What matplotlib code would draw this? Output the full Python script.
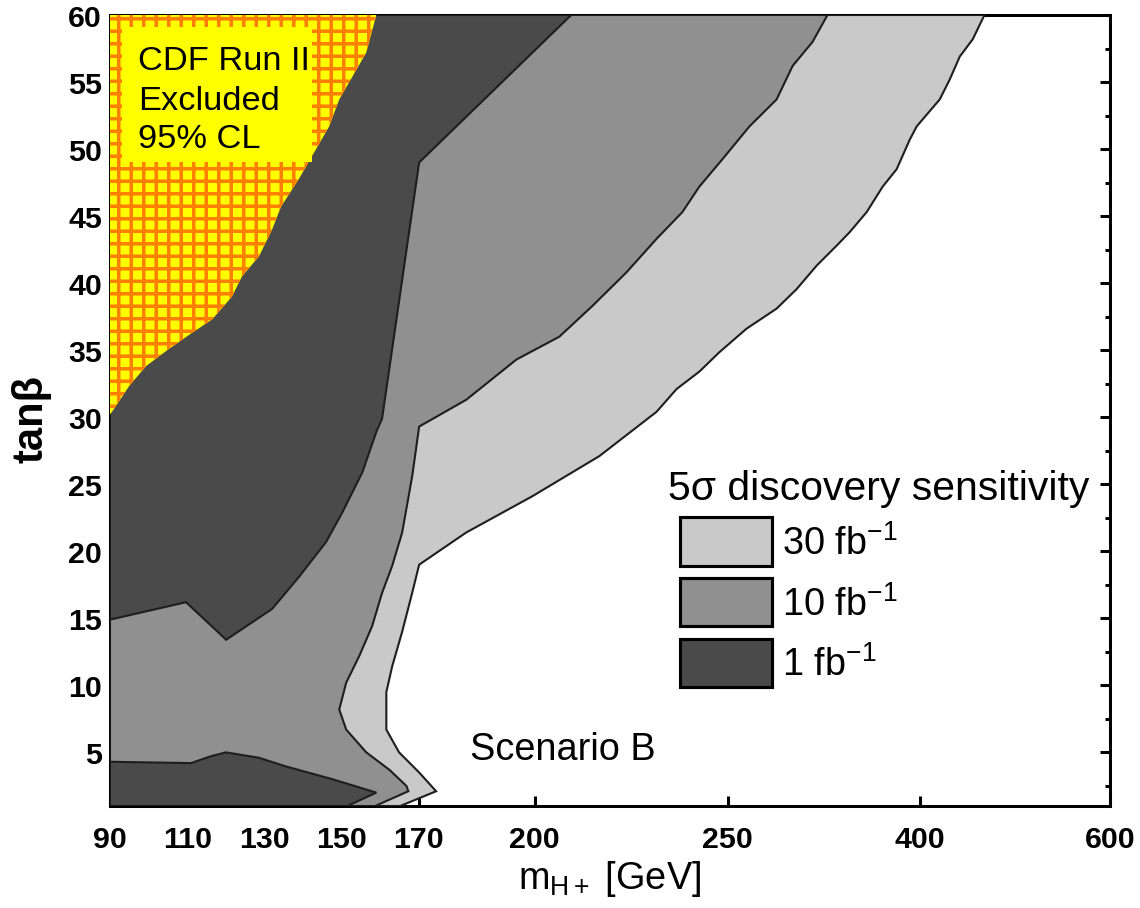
import numpy as np
import matplotlib
matplotlib.use('Agg')
import matplotlib.pyplot as plt
from matplotlib.patches import Polygon, Rectangle, Patch
from matplotlib.ticker import FixedLocator, MultipleLocator

plt.rcParams['font.family'] = ['Liberation Sans', 'DejaVu Sans']
plt.rcParams['mathtext.fontset'] = 'custom'
plt.rcParams['mathtext.rm'] = 'Liberation Sans'
plt.rcParams['mathtext.it'] = 'Liberation Sans:italic'
plt.rcParams['mathtext.bf'] = 'Liberation Sans:bold'
plt.rcParams['hatch.linewidth'] = 1.7

# ---------------- data (m_H+ [GeV], tan beta) ----------------
# CDF Run II 95% CL excluded region: boundary from left edge to top edge
cdf_m = [90, 91.0, 94.9, 99.3, 105.3, 111.3, 116.5, 121.6, 124.2, 128.6, 132.0,
         134.3, 139.0, 142.4, 146.8, 149.4, 152.8, 156.4, 159.0]
cdf_tb = [30.2, 30.6, 32.3, 33.8, 35.1, 36.3, 37.3, 39.0, 40.5, 42.0, 44.0,
          45.7, 47.8, 49.5, 51.7, 53.7, 55.4, 57.2, 60.0]

# 1 fb^-1 contour, upper region boundary (left edge -> top edge)
one_up_m = [90, 109.7, 120.1, 132.0, 139.0, 146.0, 150.2, 155.4, 159.0, 160.5, 170.1, 209.5]
one_up_tb = [14.9, 16.2, 13.4, 15.7, 18.1, 20.7, 22.9, 25.9, 28.9, 29.9, 49.0, 60.0]

# 1 fb^-1 contour, lower strip boundary (left edge -> bottom edge)
one_lo_m = [90, 111.0, 116.0, 120.0, 128.6, 135.6, 147.6, 159.0, 151.5]
one_lo_tb = [4.3, 4.2, 4.7, 5.0, 4.6, 3.95, 3.0, 2.0, 1.0]

# 10 fb^-1 contour (top edge -> bottom edge)
ten_m = [328, 316.4, 300.8, 288.3, 267.2, 248.7, 242.7, 238.3, 231.6, 223.8, 215.0,
         206.4, 195.3, 182.3, 170.1, 168.3, 165.7, 163.1, 160.5, 157.9, 154.6, 151.2,
         149.4, 151.2, 156.4, 162.4, 166.8, 167.3, 158.7]
ten_tb = [60, 58.0, 56.2, 53.7, 51.7, 49.25, 47.2, 45.3, 43.3, 40.8, 38.3,
          36.0, 34.3, 31.3, 29.3, 25.6, 21.4, 18.9, 16.9, 14.4, 12.2, 10.2,
          8.2, 6.7, 5.0, 3.7, 2.5, 2.1, 1.0]

# 30 fb^-1 contour (top edge -> bottom edge)
thirty_m = [468, 455.8, 442.1, 431.6, 421.0, 397.7, 392.2, 382.0, 371.1, 358.6, 345.3,
            335.2, 319.5, 303.9, 288.3, 264.8, 247.9, 242.7, 236.8, 231.6, 216.8, 199.4,
            182.3, 170.1, 168.3, 165.7, 163.1, 161.6, 161.6, 164.9, 170.1, 174.5, 165.2]
thirty_tb = [60, 58.2, 56.9, 55.2, 53.7, 51.7, 50.7, 48.5, 47.2, 45.3, 43.8,
             42.8, 41.3, 39.55, 38.1, 36.6, 34.85, 33.4, 32.1, 30.4, 27.1, 24.1,
             21.4, 19.0, 16.9, 14.0, 11.4, 9.5, 6.7, 5.0, 3.5, 2.1, 1.0]

x_ticks = [90, 110, 130, 150, 170, 200, 250, 400, 600]
x_ticklabels = ['90', '110', '130', '150', '170', '200', '250', '400', '600']
y_ticks = [5, 10, 15, 20, 25, 30, 35, 40, 45, 50, 55, 60]

legend_labels = ['30 fb$^{-1}$', '10 fb$^{-1}$', '1 fb$^{-1}$']
c_light, c_mid, c_dark = '#c9c9c9', '#909090', '#4a4a4a'
c_yellow, c_orange = '#ffff00', '#ff7f00'

X0, X1, Y0, Y1 = 90, 600, 1, 60

# piecewise-linear mass axis (compressed above 250 GeV)
XP = np.array([90., 250., 400., 600.])
FP = np.array([90., 250., 299.8, 349.1])


def _pw(x, a, b):
    x = np.asarray(x, dtype=float)
    y = np.interp(x, a, b)
    lo = b[0] + (x - a[0]) * (b[1] - b[0]) / (a[1] - a[0])
    hi = b[-1] + (x - a[-1]) * (b[-1] - b[-2]) / (a[-1] - a[-2])
    return np.where(x < a[0], lo, np.where(x > a[-1], hi, y))


def fwd(x):
    return _pw(x, XP, FP)


def inv(y):
    return _pw(y, FP, XP)


fig = plt.figure(figsize=(1140 / 150, 909 / 150), dpi=150)
ax = fig.add_axes([110 / 1140, 1 - 807 / 909, 1000 / 1140, 791 / 909])
ax.set_xscale('function', functions=(fwd, inv))
ax.set_xlim(X0, X1)
ax.set_ylim(Y0, Y1)

edge = '#1e1e1e'
lw = 1.0
light = [(X0, Y0), (X0, Y1)] + list(zip(thirty_m, thirty_tb))
mid = [(X0, Y0), (X0, Y1)] + list(zip(ten_m, ten_tb))
dark_up = [(X0, Y1)] + list(zip(one_up_m, one_up_tb))
dark_lo = [(X0, Y0)] + list(zip(one_lo_m, one_lo_tb))
cdf = [(X0, Y1)] + list(zip(cdf_m, cdf_tb))

ax.add_patch(Polygon(light, closed=True, facecolor=c_light, edgecolor=edge, lw=lw, zorder=3))
ax.add_patch(Polygon(mid, closed=True, facecolor=c_mid, edgecolor=edge, lw=lw, zorder=3.1))
ax.add_patch(Polygon(dark_up, closed=True, facecolor=c_dark, edgecolor=edge, lw=lw, zorder=3.2))
ax.add_patch(Polygon(dark_lo, closed=True, facecolor=c_dark, edgecolor=edge, lw=lw, zorder=3.2))
ax.add_patch(Polygon(cdf, closed=True, facecolor=c_yellow, edgecolor=c_orange, lw=0,
                     hatch='++', zorder=3.3))
# plain yellow box behind the CDF label
ax.add_patch(Rectangle((0.012, 0.814), 0.19, 0.171, transform=ax.transAxes,
                       facecolor=c_yellow, edgecolor='none', zorder=3.4))

ax.text(0.028, 0.9317, 'CDF Run II', transform=ax.transAxes, fontsize=16.5,
        va='baseline', ha='left', zorder=6)
ax.text(0.028, 0.8812, 'Excluded', transform=ax.transAxes, fontsize=16.5,
        va='baseline', ha='left', zorder=6)
ax.text(0.028, 0.8331, '95% CL', transform=ax.transAxes, fontsize=16.5,
        va='baseline', ha='left', zorder=6)

ax.text(0.36, 0.059, 'Scenario B', transform=ax.transAxes, fontsize=18.2,
        va='baseline', ha='left', zorder=6)
ax.text(0.558, 0.388, '5\u03c3 discovery sensitivity', transform=ax.transAxes,
        fontsize=19.6, va='baseline', ha='left', zorder=6)

handles = [Patch(facecolor=c, edgecolor='black', linewidth=1.5)
           for c in (c_light, c_mid, c_dark)]
leg = ax.legend(handles, legend_labels, loc='upper left', bbox_to_anchor=(0.570, 0.365),
                frameon=False, fontsize=18.2, handlelength=2.42, handleheight=1.58,
                handletextpad=0.27, labelspacing=0.33, borderpad=0, borderaxespad=0)
leg.set_zorder(7)

ax.xaxis.set_major_locator(FixedLocator(x_ticks))
ax.set_xticklabels(x_ticklabels)
ax.xaxis.set_minor_locator(FixedLocator([]))
ax.yaxis.set_major_locator(FixedLocator(y_ticks))
ax.yaxis.set_minor_locator(MultipleLocator(2.5))

ax.tick_params(axis='both', which='both', direction='in', top=False, right=True,
               left=True, bottom=True)
ax.tick_params(axis='both', which='major', length=4.8, width=1.45)
ax.tick_params(axis='y', which='minor', length=2.4, width=1.45)
ax.tick_params(axis='x', which='major', pad=9)
ax.tick_params(axis='y', which='major', pad=3.8)
for lab in ax.get_xticklabels() + ax.get_yticklabels():
    lab.set_fontsize(14.6)
    lab.set_fontweight('bold')

for s in ax.spines.values():
    s.set_linewidth(1.45)

ax.set_xlabel('m$_{\\mathregular{H+}}$ [GeV]', fontsize=18.2)
ax.xaxis.set_label_coords(0.5, -0.066)
ax.set_ylabel('tan\u03b2', fontsize=20, fontweight='bold')
ax.yaxis.set_label_coords(-0.058, 0.49)

fig.savefig('out.png', dpi=150)
